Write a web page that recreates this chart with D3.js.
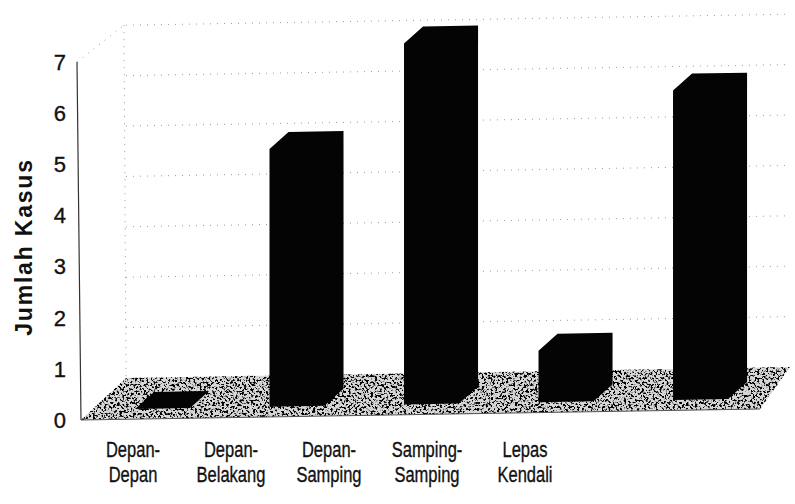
<!DOCTYPE html>
<html>
<head>
<meta charset="utf-8">
<script src="https://cdn.jsdelivr.net/npm/d3@7/dist/d3.min.js"></script>
<style>
  html, body { margin: 0; padding: 0; background: #fff; }
  svg { display: block; }
</style>
</head>
<body>
<script>
// ---- data ----
const categories = ["Depan-Depan", "Depan-Belakang", "Depan-Samping", "Samping-Samping", "Lepas Kendali"];
const categoryLines = [["Depan-", "Depan"], ["Depan-", "Belakang"], ["Depan-", "Samping"], ["Samping-", "Samping"], ["Lepas", "Kendali"]];
const values = [0, 5, 7, 1, 6];
const yTicks = [0, 1, 2, 3, 4, 5, 6, 7];
const yTitle = "Jumlah Kasus";

// ---- layout ----
const W = 795, H = 504;
const svg = d3.select("body").append("svg").attr("width", W).attr("height", H);
svg.append("rect").attr("width", W).attr("height", H).attr("fill", "#fff");

// speckled print texture for the floor
const defs = svg.append("defs");
const grain = defs.append("filter").attr("id", "grain")
  .attr("x", 0).attr("y", 0).attr("width", 1).attr("height", 1)
  .attr("color-interpolation-filters", "sRGB");
grain.append("feTurbulence").attr("type", "fractalNoise").attr("baseFrequency", 0.45)
  .attr("numOctaves", 2).attr("seed", 7).attr("result", "noise");
grain.append("feColorMatrix").attr("in", "noise").attr("type", "matrix")
  .attr("values", "0 0 0 0 0  0 0 0 0 0  0 0 0 0 0  10 0 0 0 -5.1").attr("result", "dots");
grain.append("feComposite").attr("in", "dots").attr("in2", "SourceGraphic").attr("operator", "in");

// floor corners (front-left, front-right, back-right, back-left)
const floorPts = [[81, 420], [760, 409], [790, 367], [126, 378]];
const maxV = d3.max(yTicks);

// value scales: front axis, back wall, bar heights
const yAxis = d3.scaleLinear().domain([0, maxV]).range([420, 62]);
const wallH = d3.scaleLinear().domain([0, maxV]).range([0, 352.8]);
const barH = d3.scaleLinear().domain([0, maxV]).range([0, 361]);
const backBase = d3.scaleLinear().domain([126, 790]).range([378, 367]);

// category scales
const x = d3.scaleBand().domain(categories).range([94.65, 768.4]).paddingInner(0.591).paddingOuter(0.3);
const labelX = d3.scalePoint().domain(categories).range([133, 525]);
const barBase = d3.scaleLinear().domain([135, 673]).range([409, 400]);
const depth = [19, -17];

// ---- back wall gridlines ----
const grid = svg.append("g").attr("stroke", "#999").attr("stroke-width", 1)
  .attr("stroke-dasharray", "1,6").attr("fill", "none");
grid.selectAll("line.g").data(yTicks.filter(v => v > 0)).join("line")
  .attr("x1", 126).attr("x2", 790)
  .attr("y1", v => backBase(126) - wallH(v))
  .attr("y2", v => backBase(790) - wallH(v));
// back-left corner and left wall top edge
grid.append("line").attr("x1", 124).attr("y1", backBase(126) - wallH(maxV)).attr("x2", 126).attr("y2", 378);
grid.append("line").attr("x1", 77).attr("y1", yAxis(maxV)).attr("x2", 124).attr("y2", backBase(126) - wallH(maxV));

// ---- floor ----
const floorPath = "M" + floorPts.map(p => p.join(",")).join("L") + "Z";
svg.append("path").attr("d", floorPath).attr("fill", "#d6d6d6");
svg.append("path").attr("d", floorPath).attr("fill", "#000").attr("filter", "url(#grain)");
svg.append("path").attr("d", `M${floorPts[0]}L${floorPts[1]}`).attr("stroke", "#555").attr("stroke-width", 1);

// ---- front-left value axis line ----
svg.append("line").attr("x1", 77).attr("y1", yAxis(maxV)).attr("x2", 81).attr("y2", yAxis(0))
  .attr("stroke", "#333").attr("stroke-width", 1.2);

// ---- bars ----
function barPoints(c, v) {
  const x0 = x(c), x1 = x0 + x.bandwidth();
  const b0 = barBase(x0), b1 = barBase(x1);
  const h = barH(v);
  const [dx, dy] = depth;
  return [
    [x0, b0], [x0, b0 - h], [x0 + dx, b0 - h + dy],
    [x1 + dx, b1 - h + dy], [x1 + dx, b1 + dy], [x1, b1]
  ];
}
svg.append("g").selectAll("path").data(categories).join("path")
  .attr("d", (c, i) => "M" + barPoints(c, values[i]).map(p => p.join(",")).join("L") + "Z")
  .attr("fill", "#040404");

// ---- tick labels ----
svg.append("g").selectAll("text").data(yTicks).join("text")
  .attr("x", 66).attr("y", v => yAxis(v)).attr("dy", "0.36em")
  .attr("text-anchor", "end")
  .attr("font-family", "'Liberation Sans', Arial, sans-serif").attr("font-size", 22)
  .attr("fill", "#111").attr("stroke", "#111").attr("stroke-width", 0.35).text(v => v);

// ---- axis title ----
svg.append("text")
  .attr("transform", "translate(32,247) rotate(-90)")
  .attr("text-anchor", "middle")
  .attr("font-family", "'Liberation Sans', Arial, sans-serif").attr("font-size", 23)
  .attr("font-weight", "bold").attr("letter-spacing", 1.8)
  .attr("fill", "#111").text(yTitle);

// ---- category labels (condensed) ----
const cat = svg.append("g").selectAll("g").data(categories).join("g")
  .attr("transform", c => `translate(${labelX(c)},0) scale(0.75,1)`);
cat.append("text")
  .attr("text-anchor", "middle")
  .attr("font-family", "'Liberation Sans', Arial, sans-serif")
  .attr("font-size", 22).attr("fill", "#111").attr("stroke", "#111").attr("stroke-width", 0.35)
  .each(function (c, i) {
    const t = d3.select(this);
    categoryLines[i].forEach((line, j) => {
      t.append("tspan").attr("x", 0).attr("y", 457 + j * 25).text(line);
    });
  });
</script>
</body>
</html>
